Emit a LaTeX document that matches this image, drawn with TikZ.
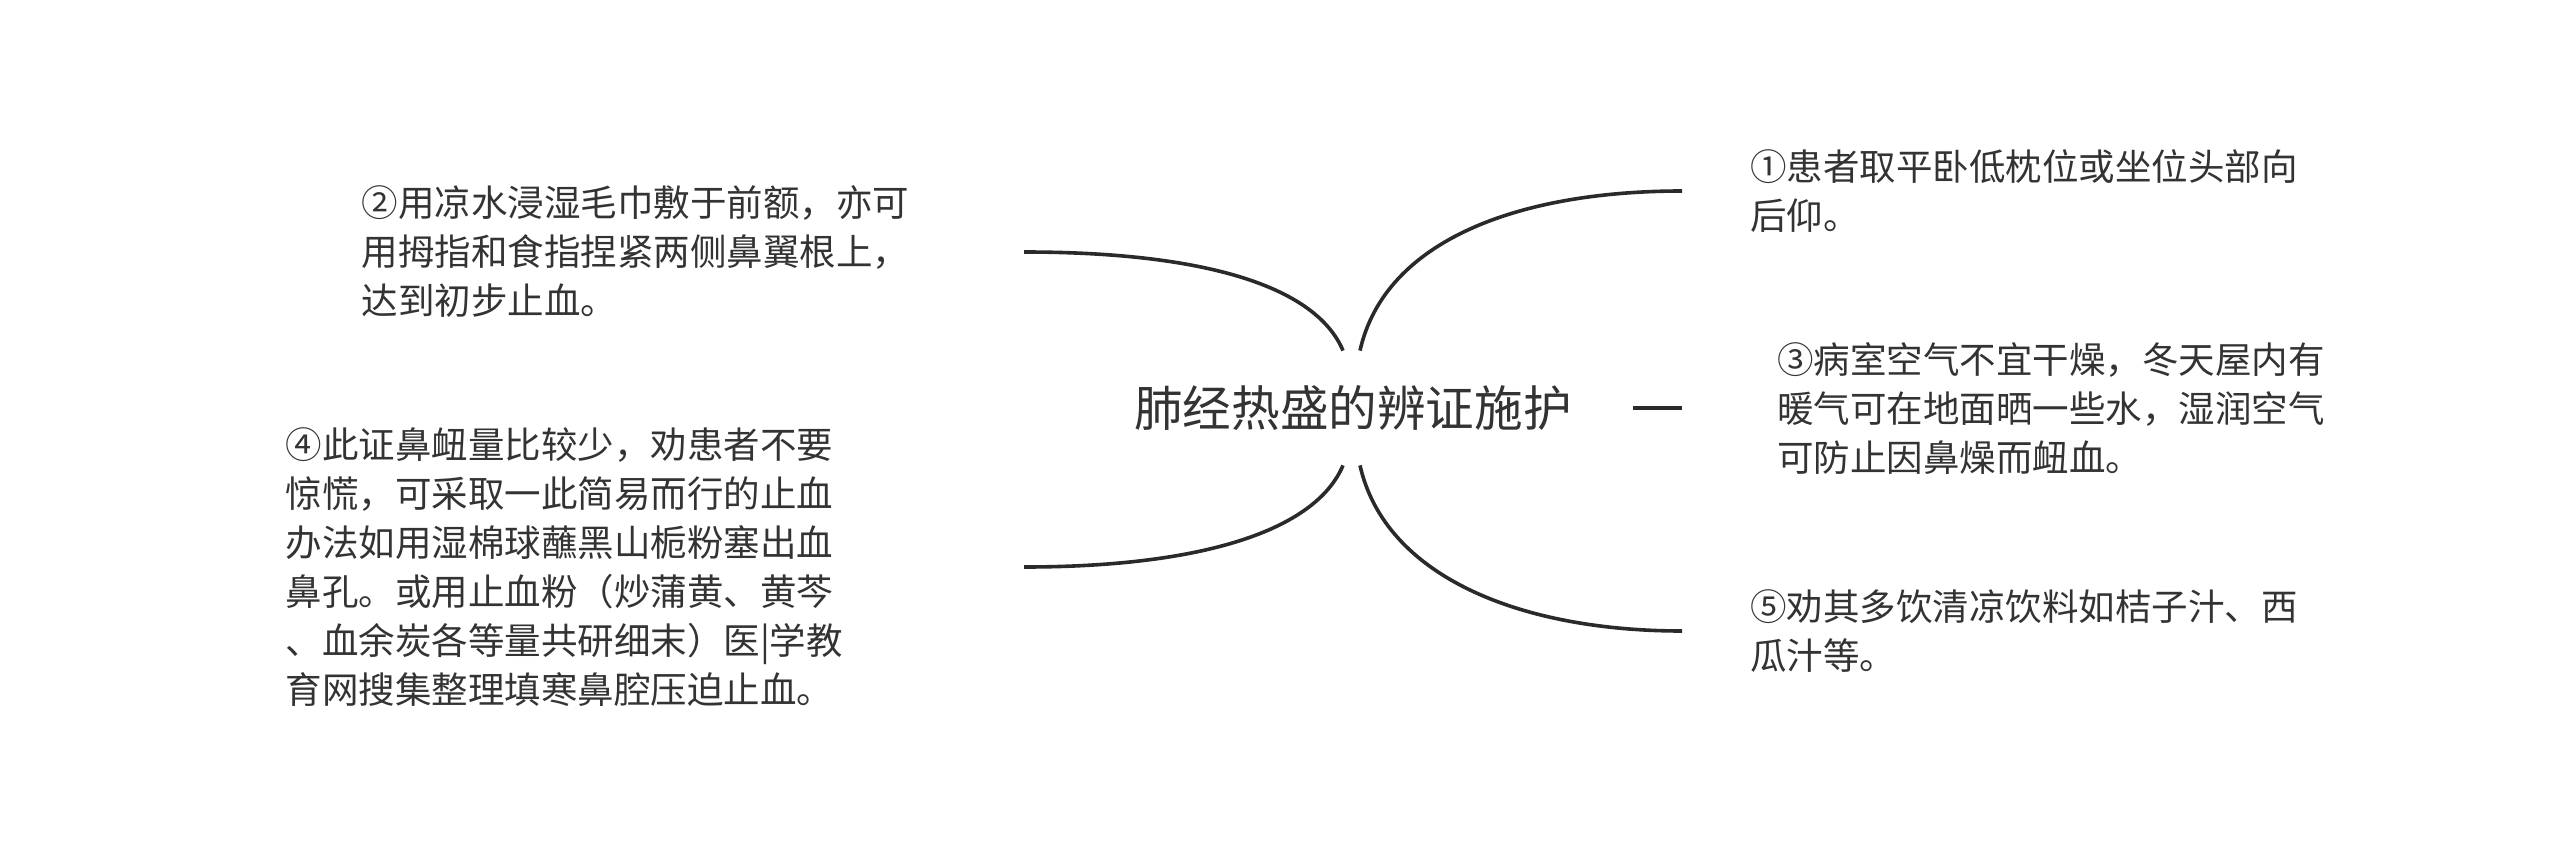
\documentclass[tikz,border=0pt]{standalone}
\usepackage{fontspec}
\setmainfont{Noto Sans CJK SC}
\usepackage{tikz}
\definecolor{ink}{HTML}{333333}
\definecolor{stroke}{HTML}{2A2A2A}
\tikzset{
	every node/.style={
		font=\fontsize{18.25pt}{24.5pt}\selectfont,
		text=ink
	},
	topic/.style={
		shape=rectangle,
		minimum width=280pt,
		minimum height=57pt,
		font=\fontsize{24.3pt}{30pt}\selectfont
	},
	leaf/.style={
		shape=rectangle,
		align=left,
		inner ysep=0pt
	},
	leaf left/.style={
		leaf,
		anchor=east,
		inner xsep=0pt
	},
	leaf right/.style={
		leaf,
		anchor=west,
		inner xsep=34pt
	},
	branch/.style={
		draw=stroke,
		line width=1.8pt
	}
}

\begin{document}
\begin{tikzpicture}[x=0.5pt,y=-0.5pt]
	\useasboundingbox (0,0) rectangle (2560,856);

	\node[topic] (topic) at (1353,408) {肺经热盛的辨证施护};

	\node[leaf right] (n1) at (1682,191) {①患者取平卧低枕位或坐位头部向\\后仰。};
	\node[leaf left, text width=331pt] (n2) at (1024,252) {②用凉水浸湿毛巾敷于前额，亦可\\用拇指和食指捏紧两侧鼻翼根上，\\达到初步止血。};
	\node[leaf right, inner xsep=47.5pt] (n3) at (1682,408) {③病室空气不宜干燥，冬天屋内有\\暖气可在地面晒一些水，湿润空气\\可防止因鼻燥而衄血。};
	\node[leaf left, text width=369pt] (n4) at (1024,567) {④此证鼻衄量比较少，劝患者不要\\惊慌，可采取一此简易而行的止血\\办法如用湿棉球蘸黑山栀粉塞出血\\鼻孔。或用止血粉（炒蒲黄、黄芩\\、血余炭各等量共研细末）医|学教\\育网搜集整理填寒鼻腔压迫止血。};
	\node[leaf right] (n5) at (1682,631) {⑤劝其多饮清凉饮料如桔子汁、西\\瓜汁等。};

	\draw[branch] ([xshift=-5pt]topic.north) .. controls +(-28,-66) and +(176,0) .. (n2.east);
	\draw[branch] ([xshift=3.5pt]topic.north) .. controls +(25,-111) and +(-162,0) .. (n1.west);
	\draw[branch] (topic.east) -- (n3.west);
	\draw[branch] ([xshift=-5pt]topic.south) .. controls +(-28,66) and +(176,0) .. (n4.east);
	\draw[branch] ([xshift=3.5pt]topic.south) .. controls +(25,111) and +(-162,0) .. (n5.west);
\end{tikzpicture}
\end{document}
